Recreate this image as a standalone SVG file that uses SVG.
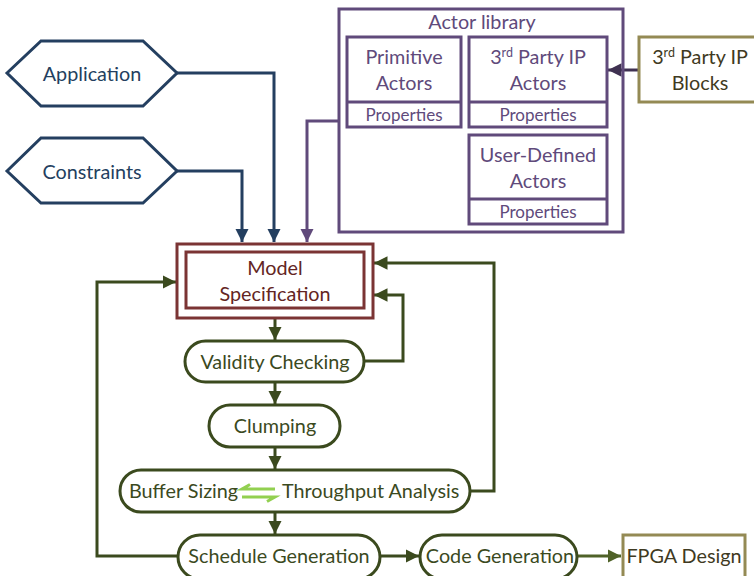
<svg xmlns="http://www.w3.org/2000/svg" width="754" height="576" viewBox="0 0 754 576">
  <defs>
    <marker id="arrNavy" viewBox="0 0 10 10" refX="10" refY="5" markerWidth="4.5" markerHeight="4.5" orient="auto" markerUnits="strokeWidth">
      <path d="M0,0 L10,5 L0,10 z" fill="#243F60"/>
    </marker>
    <marker id="arrPurple" viewBox="0 0 10 10" refX="10" refY="5" markerWidth="4.5" markerHeight="4.5" orient="auto" markerUnits="strokeWidth">
      <path d="M0,0 L10,5 L0,10 z" fill="#604A7B"/>
    </marker>
    <marker id="arrPurpleDark" viewBox="0 0 10 10" refX="10" refY="5" markerWidth="4.5" markerHeight="4.5" orient="auto" markerUnits="strokeWidth">
      <path d="M0,0 L10,5 L0,10 z" fill="#3F3151"/>
    </marker>
    <marker id="arrGreen" viewBox="0 0 10 10" refX="10" refY="5" markerWidth="4.5" markerHeight="4.5" orient="auto" markerUnits="strokeWidth">
      <path d="M0,0 L10,5 L0,10 z" fill="#3B4A1E"/>
    </marker>
    <marker id="arrGreenLight" viewBox="0 0 10 10" refX="10" refY="5" markerWidth="4.5" markerHeight="4.5" orient="auto" markerUnits="strokeWidth">
      <path d="M0,0 L10,5 L0,10 z" fill="#4F6228"/>
    </marker>
  </defs>
  <style>
    text { font-family: Lato, "Open Sans", "Liberation Sans", sans-serif; text-anchor: middle; }
    .lbl { font-size: 19.8px; }
    .small { font-size: 17px; }
    .start { text-anchor: start; }
    .navy { fill: none; stroke: #243F60; stroke-width: 3; stroke-linejoin: miter; }
    .navyT { fill: #243F60; }
    .purple { fill: none; stroke: #604A7B; stroke-width: 3; }
    .purpleT { fill: #604A7B; }
    .maroon { fill: none; stroke: #7B3434; stroke-width: 3; }
    .maroonT { fill: #632523; }
    .pill { fill: #FFFFFF; stroke: #3B4A1E; stroke-width: 3; }
    .greenT { fill: #3B4A1E; }
    .olive { fill: #FFFFFF; stroke: #948A54; stroke-width: 3; }
    .oliveT { fill: #3F3A22; }
    .conn { fill: none; stroke-width: 3; }
  </style>

  <rect width="754" height="576" fill="#FFFFFF"/>

  <!-- connectors -->
  <g id="connectors" class="conn">
    <path d="M177,73 H274 V242" stroke="#243F60" marker-end="url(#arrNavy)"/>
    <path d="M177,171 H242 V242" stroke="#243F60" marker-end="url(#arrNavy)"/>
    <path d="M339,121 H307 V242" stroke="#604A7B" marker-end="url(#arrPurple)"/>
    <path d="M639,70 H608" stroke="#3F3151" marker-end="url(#arrPurpleDark)"/>
    <path d="M275,319 V340" stroke="#3B4A1E" marker-end="url(#arrGreen)"/>
    <path d="M275,383 V404" stroke="#3B4A1E" marker-end="url(#arrGreen)"/>
    <path d="M275,448 V469" stroke="#3B4A1E" marker-end="url(#arrGreen)"/>
    <path d="M275,513 V534" stroke="#3B4A1E" marker-end="url(#arrGreen)"/>
    <path d="M364,361 H403 V295 H374" stroke="#3B4A1E" marker-end="url(#arrGreen)"/>
    <path d="M470,491 H494 V263 H374" stroke="#3B4A1E" marker-end="url(#arrGreen)"/>
    <path d="M178,556 H97 V282 H176" stroke="#3B4A1E" marker-end="url(#arrGreen)"/>
    <path d="M380,556 H419" stroke="#3B4A1E" marker-end="url(#arrGreen)"/>
    <path d="M577,556 H621" stroke="#4F6228" marker-end="url(#arrGreenLight)"/>
  </g>

  <!-- inputs -->
  <g id="application">
    <polygon class="navy" points="7,73 41,41 143,41 177,73 143,106 41,106" fill="#FFFFFF"/>
    <text class="lbl navyT" x="92" y="81">Application</text>
  </g>
  <g id="constraints">
    <polygon class="navy" points="7,171 41,138 143,138 177,171 143,203 41,203" fill="#FFFFFF"/>
    <text class="lbl navyT" x="92" y="179">Constraints</text>
  </g>

  <!-- actor library -->
  <g id="actor-library">
    <rect class="purple" x="339" y="9" width="284" height="223"/>
    <text class="lbl purpleT" x="482" y="29">Actor library</text>
  </g>
  <g id="primitive-actors">
    <rect class="purple" x="347" y="37" width="114" height="90"/>
    <line class="purple" x1="347" y1="102" x2="461" y2="102"/>
    <text class="lbl purpleT" x="404" y="64">Primitive</text>
    <text class="lbl purpleT" x="404" y="90">Actors</text>
    <text class="small purpleT" x="404" y="121">Properties</text>
  </g>
  <g id="third-party-actors">
    <rect class="purple" x="469" y="37" width="138" height="90"/>
    <line class="purple" x1="469" y1="102" x2="607" y2="102"/>
    <text class="lbl purpleT" x="538" y="64">3<tspan font-size="12.5" dy="-7">rd</tspan><tspan dy="7"> Party IP</tspan></text>
    <text class="lbl purpleT" x="538" y="90">Actors</text>
    <text class="small purpleT" x="538" y="121">Properties</text>
  </g>
  <g id="user-defined-actors">
    <rect class="purple" x="469" y="135" width="138" height="89"/>
    <line class="purple" x1="469" y1="199" x2="607" y2="199"/>
    <text class="lbl purpleT" x="538" y="162">User-Defined</text>
    <text class="lbl purpleT" x="538" y="188">Actors</text>
    <text class="small purpleT" x="538" y="218">Properties</text>
  </g>
  <g id="third-party-blocks">
    <rect class="olive" x="639" y="37" width="122" height="65"/>
    <text class="lbl oliveT" x="700" y="64">3<tspan font-size="12.5" dy="-7">rd</tspan><tspan dy="7"> Party IP</tspan></text>
    <text class="lbl oliveT" x="700" y="90">Blocks</text>
  </g>

  <!-- flow -->
  <g id="model-specification">
    <rect class="maroon" x="177" y="244" width="196" height="74" fill="#FFFFFF"/>
    <rect class="maroon" x="186" y="252" width="178" height="56"/>
    <text class="lbl maroonT" x="275" y="275">Model</text>
    <text class="lbl maroonT" x="275" y="301">Specification</text>
  </g>
  <g id="validity-checking">
    <rect class="pill" x="185" y="341" width="179" height="41" rx="20.5"/>
    <text class="lbl greenT" x="275" y="369">Validity Checking</text>
  </g>
  <g id="clumping">
    <rect class="pill" x="209" y="405" width="131" height="42" rx="21"/>
    <text class="lbl greenT" x="275" y="433">Clumping</text>
  </g>
  <g id="buffer-throughput">
    <rect class="pill" x="120" y="470" width="350" height="42" rx="21"/>
    <text class="lbl greenT start" x="129" y="498">Buffer Sizing</text>
    <text class="lbl greenT start" x="282" y="498">Throughput Analysis</text>
    <path d="M275,489 H242 L250,484.5 M242,497 H275 L267,501.5" fill="none" stroke="#92D050" stroke-width="3"/>
  </g>
  <g id="schedule-generation">
    <rect class="pill" x="178" y="535" width="202" height="44" rx="22"/>
    <text class="lbl greenT" x="279" y="563">Schedule Generation</text>
  </g>
  <g id="code-generation">
    <rect class="pill" x="420" y="535" width="157" height="44" rx="22"/>
    <text class="lbl greenT" x="500" y="563">Code Generation</text>
  </g>
  <g id="fpga-design">
    <rect class="olive" x="623" y="535" width="122" height="44"/>
    <text class="lbl oliveT" x="684" y="563">FPGA Design</text>
  </g>
</svg>
